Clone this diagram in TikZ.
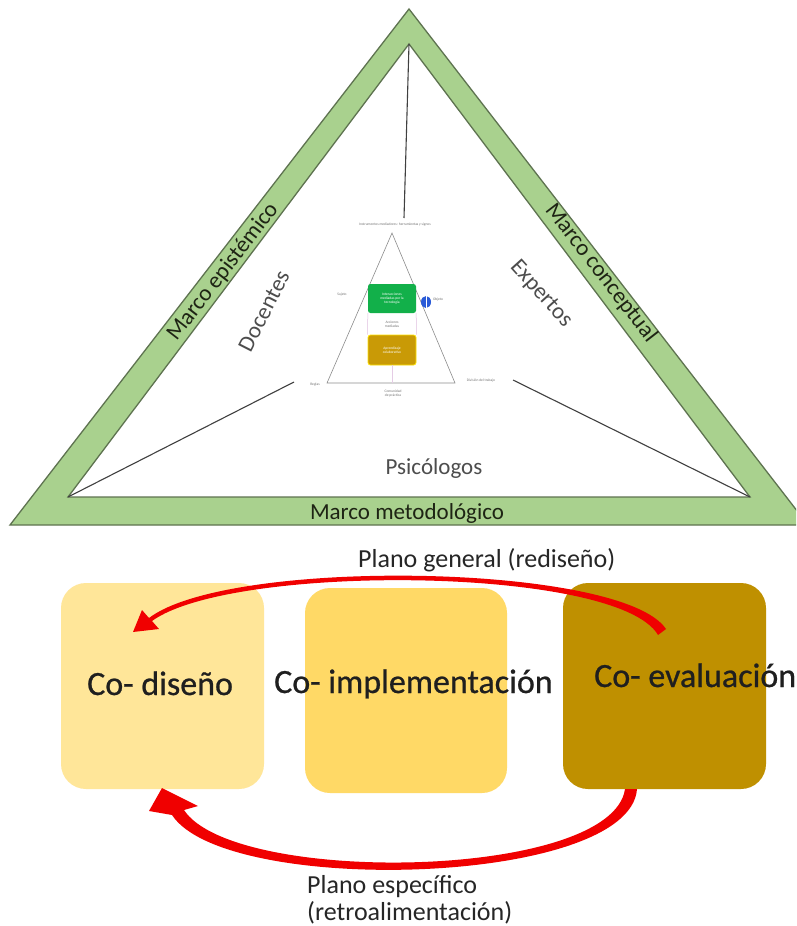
\documentclass[tikz,border=0pt]{standalone}
\usepackage{fontspec}
\setmainfont{Carlito}
\newfontfamily\phasefont{Carlito}[FakeBold=0.7]
\definecolor{bandgreen}{HTML}{A9D18E}
\definecolor{bandline}{HTML}{5E7350}
\definecolor{labelgray}{HTML}{4D4D4D}
\definecolor{darktext}{HTML}{1E2414}
\definecolor{boxlight}{HTML}{FFE699}
\definecolor{boxmid}{HTML}{FFD966}
\definecolor{boxdark}{HTML}{BF9000}
\definecolor{arrowred}{HTML}{F00000}
\definecolor{tinygreen}{HTML}{12B04A}
\definecolor{tinygold}{HTML}{C99A06}
\definecolor{tinyblue}{HTML}{2A5BD7}
\begin{document}
\begin{tikzpicture}[x=1pt,y=-1pt,
  band/.style={fill=bandgreen,draw=bandline,line width=1.3pt,even odd rule},
  spoke/.style={draw=black!75,line width=1.1pt},
  bandlabel/.style={font=\fontsize{23}{23}\selectfont,text=darktext,inner sep=0pt},
  actor/.style={font=\fontsize{23}{23}\selectfont,text=labelgray,inner sep=0pt},
  tiny/.style={font=\fontsize{3.6}{4}\selectfont,text=black!55,inner sep=0pt,align=center},
  tinybox/.style={rounded corners=2.5pt,minimum width=48pt,font=\fontsize{3.6}{4.2}\selectfont,text=white,align=center,inner sep=0pt},
  phase/.style={rounded corners=25pt,draw=none},
  phaselabel/.style={font=\phasefont\fontsize{34}{34}\selectfont,text=black!88,inner sep=0pt,anchor=base west},
  planlabel/.style={font=\fontsize{26}{26}\selectfont,text=black!85,inner sep=0pt,anchor=base west}
]
\clip (0,0) rectangle (796,926);
\fill[white] (0,0) rectangle (796,926);

% ---------- framework triangle ----------
\coordinate (oA) at (409,9);
\coordinate (oL) at (10,525);
\coordinate (oR) at (808,525);
\coordinate (iA) at (409,44);
\coordinate (iL) at (68,497);
\coordinate (iR) at (750,497);
\path[band] (oA) -- (oL) -- (oR) -- cycle (iA) -- (iL) -- (iR) -- cycle;

\node[bandlabel,rotate=52.3] (epis) at (223,272) {Marco epistémico};
\node[bandlabel,rotate=-52.3] (conc) at (601,273) {Marco conceptual};
\node[bandlabel,anchor=base] (meto) at (407,519) {Marco metodológico};

% ---------- actors ----------
\node[actor,rotate=63] (doc) at (264,311) {Docentes};
\node[actor,rotate=-48] (exp) at (541,294) {Expertos};
\node[actor] (psi) at (434,468) {Psicólogos};

% ---------- activity system in the centre ----------
\coordinate (sA) at (392,233);
\coordinate (sL) at (327,383);
\coordinate (sR) at (455,383);
\draw[black!45,line width=0.6pt] (sA) -- (sL) -- (sR) -- cycle;

\node[tiny] (ttop) at (395,225) {Instrumentos mediadores: herramientas y signos};
\node[tiny] (tsuj) at (342,295) {Sujeto};
\node[tiny] (tobj) at (438,300) {Objeto};
\node[tiny] (treg) at (315,385) {Reglas};
\node[tiny] (tdiv) at (481,381) {División del trabajo};
\node[tiny] (tcom) at (393,394) {Comunidad\\de práctica};

\node[tinybox,fill=tinygreen,minimum height=29pt] (gbox) at (392,298.5) {Interacciones\\mediadas por la\\tecnología};
\node[tinybox,fill=tinygold,draw=yellow!85!orange,line width=0.8pt,minimum height=30pt] (ybox) at (392,350) {Aprendizaje\\colaborativo};
\node[tiny] (tmid) at (392,324) {Acciones\\mediadas};
\draw[violet!25,line width=0.5pt] (gbox.south west) -- (ybox.north west) (gbox.south east) -- (ybox.north east);
\draw[violet!20,line width=0.5pt] (ybox.south) -- (ybox.south |- sL);

% two-way symbol beside the object
\fill[tinyblue] (426,302) ellipse [x radius=5pt,y radius=6pt];
\draw[white,line width=0.8pt] (426,295) -- (426,309);

% spokes from the corners of the framework
\coordinate (eT) at (404,218);
\coordinate (eL) at (294,382);
\coordinate (eR) at (513,380);
\draw[spoke] (iA) -- (eT);
\draw[spoke] (iL) -- (eL);
\draw[spoke] (iR) -- (eR);

% ---------- co-design cycle ----------
\path[phase,fill=boxlight] (61,583) rectangle (264,789);
\path[phase,fill=boxmid] (305,588) rectangle (507,793);
\path[phase,fill=boxdark] (563,583) rectangle (766,789);

\node[phaselabel] (tdis) at (87,695) {Co- diseño};
\node[phaselabel] (timp) at (274,693) {Co- implementación};
\node[phaselabel] (teva) at (594,687) {Co- evaluación};

\node[planlabel] (pgen) at (358,567) {Plano general (rediseño)};
\node[planlabel] (pesp) at (307,893) {Plano específico};
\node[planlabel] (pret) at (307,920) {(retroalimentación)};

% redesign loop: from evaluation back over the top to design
\fill[arrowred] (666,629) .. controls (622,563) and (229,557) .. (149,618)
  -- (142,610) -- (133,632) -- (159,629) -- (152,621)
  .. controls (232,563) and (618,566) .. (658,635) -- cycle;

% feedback loop: from evaluation back underneath to design
\fill[arrowred] (637,789) .. controls (630,886) and (226,897) .. (172,815)
  -- (149,811) -- (162,788) -- (198,806) -- (184,810)
  .. controls (234,886) and (612,880) .. (625,789) -- cycle;
\end{tikzpicture}
\end{document}
